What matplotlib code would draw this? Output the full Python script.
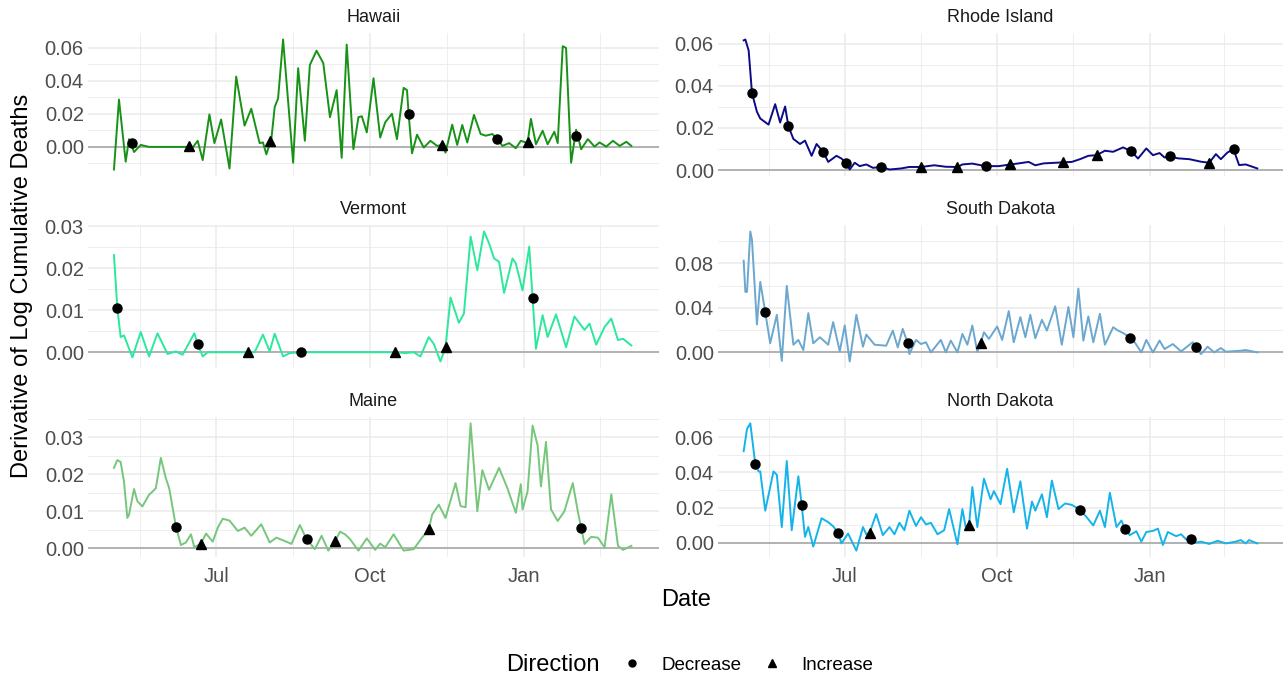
import numpy as np
import pandas as pd
import matplotlib
matplotlib.use("Agg")
import matplotlib.pyplot as plt
import matplotlib.dates as mdates
from matplotlib.ticker import MultipleLocator, FormatStrFormatter
from matplotlib.lines import Line2D

plt.rcParams['font.family'] = ['Liberation Sans', 'DejaVu Sans']

START = pd.Timestamp('2020-05-01')

# ---------------- data (day offset from START, value) ----------------
hi_day = [0,3,7,9,12,16,21,43,47,50,53,57,60,64,69,73,78,82,87,89,91,94,96,98,101,107,110,114,117,121,
          125,129,133,136,139,143,146,148,151,155,159,162,166,169,173,175,176,178,181,185,189,193,196,198,202,205,208,211,215,219,
          222,226,229,232,236,240,243,247,249,252,256,259,263,265,268,270,273,276,277,279,283,287,290,294,298,302,306,309]
hi_val = [-0.0137,0.0287,-0.0090,0.0047,-0.0031,0.0012,0.0,0.0,-0.0004,0.0037,-0.0080,0.0197,0.0023,0.0166,-0.0131,0.0426,0.0129,0.0231,0.0023,0.0027,
          -0.0045,0.0047,0.0242,0.0293,0.0651,-0.0096,0.0477,0.0037,0.0497,0.0583,0.0508,0.0180,0.0344,-0.0066,0.0620,-0.0014,0.0180,0.0186,0.0088,0.0416,
          0.0057,0.0149,0.0201,0.0047,0.0358,0.0344,0.0197,-0.0039,0.0074,-0.0004,0.0037,0.0006,0.0012,-0.0035,0.0135,0.0012,0.0133,0.0027,0.0194,0.0078,
          0.0068,0.0078,0.0047,0.0006,0.0023,-0.0008,0.0037,0.0023,0.0170,0.0016,0.0098,0.0016,0.0092,0.0023,0.0610,0.0600,-0.0096,0.0104,0.0068,-0.0014,
          0.0047,0.0002,0.0027,0.0002,0.0037,0.0006,0.0031,0.0006]
hi_dec_day = [11,176,229,276]
hi_dec_val = [0.0023,0.0197,0.0047,0.0068]
hi_inc_day = [45,93,196,247]
hi_inc_val = [0.0006,0.0037,0.0012,0.0027]

ri_day = [0,1,3,5,8,10,15,19,22,25,27,30,34,37,41,44,48,51,56,59,62,64,67,70,74,78,83,88,95,100,
          107,115,122,129,132,138,146,154,161,166,172,176,181,193,198,203,208,213,218,223,
          229,234,238,243,247,251,254,257,262,269,276,281,285,288,292,296,297,299,303,310]
ri_val = [0.0616,0.0620,0.0568,0.0366,0.0277,0.0245,0.0216,0.0313,0.0226,0.0302,0.0208,0.0148,0.0124,0.0140,0.0068,0.0124,0.0087,0.0039,0.0068,0.0055,
          0.0035,0.0003,0.0035,0.0019,0.0027,0.0011,0.0015,0.0003,0.0008,0.0015,0.0015,0.0023,0.0016,0.0015,0.0027,0.0031,0.0019,0.0019,0.0027,0.0032,
          0.0039,0.0023,0.0032,0.0037,0.0039,0.0052,0.0068,0.0071,0.0092,0.0087,0.0108,0.0089,0.0055,0.0103,0.0071,0.0081,0.0060,0.0065,0.0056,0.0052,
          0.0040,0.0035,0.0076,0.0052,0.0084,0.0100,0.0068,0.0024,0.0027,0.0008]
ri_dec_day = [5,27,48,62,83,146,234,257,296]
ri_dec_val = [0.0366,0.0208,0.0087,0.0035,0.0015,0.0019,0.0089,0.0065,0.0100]
ri_inc_day = [107,129,161,193,213,281]
ri_inc_val = [0.0015,0.0015,0.0027,0.0037,0.0071,0.0035]

vt_day = [0,2,4,6,11,16,21,26,32,37,41,48,50,53,56,80,84,89,93,96,101,105,112,168,174,179,183,188,191,195,
          198,201,206,209,213,217,221,224,227,230,233,238,240,244,248,250,252,256,259,264,270,275,281,284,288,293,297,301,304,309]
vt_val = [0.0231,0.0106,0.0036,0.0040,-0.0012,0.0048,-0.0010,0.0045,-0.0004,0.0002,-0.0006,0.0045,0.0020,-0.0010,0.0,0.0,0.0,0.0042,0.0002,0.0044,
          -0.0010,-0.0002,0.0,0.0,-0.0002,0.0,-0.0010,0.0036,0.0020,-0.0022,0.0012,0.0130,0.0070,0.0092,0.0275,0.0195,0.0287,0.0259,0.0223,0.0215,
          0.0141,0.0223,0.0211,0.0147,0.0251,0.0130,0.0008,0.0088,0.0036,0.0090,0.0012,0.0085,0.0053,0.0068,0.0018,0.0060,0.0080,0.0029,0.0032,0.0016]
vt_dec_day = [2,50,112,250]
vt_dec_val = [0.0106,0.0020,0.0,0.0130]
vt_inc_day = [80,168,198]
vt_inc_val = [0.0,0.0,0.0012]

sd_day = [0,1,2,4,5,8,10,13,16,20,23,26,30,33,36,39,42,46,51,54,58,61,64,68,72,74,79,86,90,93,
          96,99,100,104,107,110,113,119,122,125,129,132,135,138,141,143,145,148,153,156,160,163,167,170,173,176,180,183,188,192,
          196,199,202,205,208,211,215,218,223,226,230,233,236,240,243,247,251,254,259,264,271,273,276,280,284,288,291,300,303,310]
sd_val = [0.0824,0.0544,0.0544,0.1087,0.1012,0.0251,0.0634,0.0362,0.0082,0.0338,-0.0076,0.0598,0.0069,0.0112,0.0021,0.0353,0.0082,0.0136,0.0069,0.0272,
          0.0009,0.0242,-0.0082,0.0338,0.0051,0.0160,0.0069,0.0060,0.0196,0.0045,0.0211,0.0082,-0.0015,0.0112,0.0075,0.0091,0.0,0.0112,0.0,0.0106,
          0.0,0.0166,0.0069,0.0242,0.0006,0.0082,0.0181,0.0121,0.0233,0.0112,0.0371,0.0091,0.0317,0.0136,0.0338,0.0127,0.0293,0.0196,0.0414,0.0069,
          0.0408,0.0136,0.0574,0.0106,0.0323,0.0091,0.0347,0.0069,0.0226,0.0196,0.0166,0.0127,0.0091,0.0,0.0112,0.0,0.0106,0.0030,0.0075,0.0009,
          0.0091,0.0045,-0.0015,0.0051,0.0,0.0039,0.0006,0.0015,0.0021,0.0]
sd_dec_day = [13,99,233,273]
sd_dec_val = [0.0362,0.0082,0.0127,0.0045]
sd_inc_day = [143]
sd_inc_val = [0.0082]

me_day = [0,2,4,6,8,9,12,14,17,21,23,25,28,31,33,37,40,43,46,48,52,55,59,62,65,69,74,78,82,88,
          93,97,102,106,111,115,120,124,128,132,135,138,141,146,151,156,159,162,167,170,173,179,184,188,190,194,198,204,207,210,
          213,217,220,224,230,235,240,243,244,247,250,253,255,258,261,265,269,274,277,279,281,285,289,293,297,301,304,309]
me_val = [0.0217,0.0238,0.0233,0.0180,0.0082,0.0091,0.0160,0.0127,0.0113,0.0145,0.0153,0.0162,0.0244,0.0189,0.0162,0.0059,0.0009,0.0016,0.0038,0.0003,
          0.0013,0.0040,0.0018,0.0056,0.0080,0.0075,0.0047,0.0056,0.0034,0.0065,0.0016,0.0029,0.0020,0.0012,0.0063,0.0025,-0.0002,0.0034,-0.0006,0.0019,
          0.0045,0.0038,0.0025,-0.0006,0.0027,-0.0004,0.0013,0.0003,0.0038,0.0016,-0.0006,-0.0002,0.0029,0.0051,0.0091,0.0118,0.0082,0.0176,0.0114,0.0111,
          0.0337,0.0100,0.0211,0.0158,0.0217,0.0162,0.0096,0.0173,0.0105,0.0153,0.0331,0.0278,0.0167,0.0287,0.0105,0.0074,0.0100,0.0176,0.0100,0.0056,
          0.0012,0.0031,0.0029,0.0003,0.0146,0.0007,-0.0004,0.0007]
me_dec_day = [37,115,279]
me_dec_val = [0.0059,0.0025,0.0056]
me_inc_day = [52,132,188]
me_inc_val = [0.0013,0.0019,0.0051]

nd_day = [0,2,4,7,9,10,13,18,20,23,26,29,33,35,37,39,42,47,51,54,57,59,63,68,72,74,76,80,84,88,
          91,94,97,100,104,107,110,113,117,121,124,129,132,134,136,138,141,145,149,151,155,159,163,167,171,174,176,180,183,186,
          190,194,198,200,203,207,211,215,218,221,225,228,230,233,237,240,243,247,250,253,256,261,264,267,270,272,276,281,286,291,
          297,300,303,305,310]
nd_val = [0.0520,0.0646,0.0678,0.0446,0.0405,0.0405,0.0182,0.0405,0.0386,0.0089,0.0464,0.0071,0.0377,0.0215,0.0033,0.0089,-0.0022,0.0139,0.0117,0.0093,
          0.0058,-0.0004,0.0052,-0.0045,0.0089,0.0048,0.0056,0.0163,0.0043,0.0089,0.0048,0.0113,0.0071,0.0182,0.0095,0.0145,0.0104,0.0113,0.0048,0.0071,
          0.0191,-0.0009,0.0191,0.0089,0.0098,0.0316,0.0089,0.0364,0.0247,0.0293,0.0219,0.0420,0.0173,0.0349,0.0080,0.0234,0.0182,0.0275,0.0145,0.0353,
          0.0191,0.0223,0.0215,0.0204,0.0186,0.0145,0.0098,0.0182,0.0089,0.0284,0.0089,0.0126,0.0080,0.0043,0.0065,0.0006,0.0061,0.0067,0.0080,-0.0013,
          0.0061,0.0037,0.0048,0.0019,0.0019,0.0,0.0006,-0.0007,0.0011,-0.0004,0.0006,0.0015,-0.0004,0.0015,-0.0004]
nd_dec_day = [7,35,57,203,230,270]
nd_dec_val = [0.0446,0.0215,0.0058,0.0186,0.0080,0.0019]
nd_inc_day = [76,136]
nd_inc_val = [0.0056,0.0098]

states = ['Hawaii', 'Rhode Island', 'Vermont', 'South Dakota', 'Maine', 'North Dakota']
colors = ['#179217', '#0b0b87', '#2CE89C', '#6BA7CF', '#76C67B', '#14B4EA']
major_steps = [0.02, 0.02, 0.01, 0.04, 0.01, 0.02]
x_tick_labels = ['Jul', 'Oct', 'Jan']
x_tick_dates = ['2020-07-01', '2020-10-01', '2021-01-01']
legend_labels = ['Decrease', 'Increase']

panels = [
    (hi_day, hi_val, hi_dec_day, hi_dec_val, hi_inc_day, hi_inc_val),
    (ri_day, ri_val, ri_dec_day, ri_dec_val, ri_inc_day, ri_inc_val),
    (vt_day, vt_val, vt_dec_day, vt_dec_val, vt_inc_day, vt_inc_val),
    (sd_day, sd_val, sd_dec_day, sd_dec_val, sd_inc_day, sd_inc_val),
    (me_day, me_val, me_dec_day, me_dec_val, me_inc_day, me_inc_val),
    (nd_day, nd_val, nd_dec_day, nd_dec_val, nd_inc_day, nd_inc_val),
]

def to_dates(days):
    return START + pd.to_timedelta(np.asarray(days), unit='D')

# ---------------- layout ----------------
W, H = 1283, 677
fig = plt.figure(figsize=(W / 100, H / 100), dpi=100)
fig.patch.set_facecolor('white')

col_x = [(88, 659), (718, 1283)]
row_y = [(33, 176), (225, 368), (417, 557)]

grid_c = '#EBEBEB'
xmin_d = to_dates([-15.5])[0]
xmax_d = to_dates([325.5])[0]
tick_dates = pd.to_datetime(x_tick_dates)
minor_dates = pd.to_datetime(['2020-04-01', '2020-07-01', '2020-10-01', '2021-01-01', '2021-04-01'])
minor_mid = [minor_dates[i] + (minor_dates[i + 1] - minor_dates[i]) / 2 for i in range(len(minor_dates) - 1)]

for i, (name, col) in enumerate(zip(states, colors)):
    r, c = divmod(i, 2)
    x0, x1 = col_x[c]
    yt, yb = row_y[r]
    ax = fig.add_axes([x0 / W, 1 - yb / H, (x1 - x0) / W, (yb - yt) / H])
    day, val, dd, dv, idd, iv = panels[i]

    allv = np.concatenate([val, dv, iv])
    lo, hi = allv.min(), allv.max()
    pad = 0.05 * (hi - lo)
    ax.set_ylim(lo - pad, hi + pad)
    ax.set_xlim(xmin_d, xmax_d)

    for s in ax.spines.values():
        s.set_visible(False)
    ax.set_facecolor('white')

    step = major_steps[i]
    ax.yaxis.set_major_locator(MultipleLocator(step))
    ax.yaxis.set_minor_locator(MultipleLocator(step / 2))
    ax.yaxis.set_major_formatter(FormatStrFormatter('%.2f'))
    ax.set_xticks(tick_dates)
    ax.set_xticks(minor_mid, minor=True)
    if r == 2:
        ax.set_xticklabels(x_tick_labels)
    else:
        ax.set_xticklabels([])
    ax.tick_params(which='both', length=0)
    ax.tick_params(axis='y', labelsize=14.5, labelcolor='#4D4D4D', pad=3)
    ax.tick_params(axis='x', labelsize=14.5, labelcolor='#4D4D4D', pad=7)
    ax.grid(True, which='major', color=grid_c, lw=1.1)
    ax.grid(True, which='minor', color=grid_c, lw=0.6)
    ax.set_axisbelow(True)

    ax.axhline(0, color='#ADADAD', lw=1.3, zorder=1)
    ax.plot(to_dates(day), val, color=col, lw=1.4, zorder=2, solid_joinstyle='round')
    ax.plot(to_dates(dd), dv, 'o', color='black', ms=6.5, zorder=3, ls='none')
    ax.plot(to_dates(idd), iv, '^', color='black', ms=7, zorder=3, ls='none')

    fig.text((x0 + x1) / 2 / W, 1 - (yt - 16) / H, name, ha='center', va='center',
             fontsize=13, color='#1A1A1A')

fig.text(22 / W, 1 - 286 / H, 'Derivative of Log Cumulative Deaths', rotation=90,
         ha='center', va='center', fontsize=17, color='black')
fig.text(686 / W, 1 - 600 / H, 'Date', ha='center', va='center', fontsize=17, color='black')

fig.text(553 / W, 1 - 665 / H, 'Direction', ha='center', va='center', fontsize=17, color='black')
handles = [Line2D([], [], marker='o', color='black', ls='none', ms=5),
           Line2D([], [], marker='^', color='black', ls='none', ms=5.5)]
fig.legend(handles, legend_labels, ncol=2, frameon=False,
           loc='center left', bbox_to_anchor=(604 / W, 1 - 665 / H),
           fontsize=13.5, handletextpad=0.95, columnspacing=1.05, handlelength=1.2)

fig.savefig('out.png', dpi=100, facecolor='white')
